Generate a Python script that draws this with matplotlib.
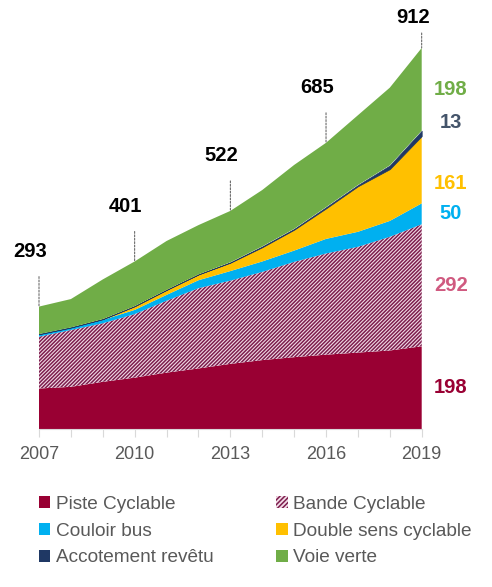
import matplotlib
matplotlib.use('Agg')
from matplotlib import pyplot as plt
from matplotlib.patches import Patch

years = list(range(2007, 2020))
piste = [97, 101, 113, 123, 135, 145, 156, 165, 172, 178, 183, 188, 198]
bande = [124, 136, 140, 152, 172, 192, 199, 211, 228, 242, 253, 272, 292]
couloir = [6, 6, 8, 10, 14, 19, 23, 25, 27, 35, 36, 38, 50]
double_sens = [0, 0, 2, 9, 12, 14, 20, 34, 50, 73, 109, 124, 161]
accotement = [0, 0, 0, 0, 0, 0, 1, 2, 2, 3, 3, 9, 13]
voie_verte = [66, 68, 95, 107, 117, 118, 123, 135, 153, 154, 167, 186, 198]

label_years = [2007, 2010, 2013, 2016, 2019]
series_names = ['Piste Cyclable', 'Bande Cyclable', 'Couloir bus',
                'Double sens cyclable', 'Accotement revêtu', 'Voie verte']

colors = ['#990033', '#F2DCE7', '#00B0F0', '#FFC000', '#1F3864', '#70AD47']
label_colors = ['#990033', '#D05A80', '#00B0F0', '#FFC000', '#44546A', '#70AD47']
hatch_color = '#7D1E4E'

narrow = ['Liberation Sans Narrow', 'Liberation Sans', 'DejaVu Sans']
plt.rcParams['font.family'] = ['Liberation Sans', 'DejaVu Sans']
plt.rcParams['hatch.linewidth'] = 1.1

fig = plt.figure(figsize=(4.92, 5.87), dpi=100)
ax = fig.add_axes([39 / 492, 158 / 587, 382.7 / 492, 417.8 / 587])

series = [piste, bande, couloir, double_sens, accotement, voie_verte]
polys = ax.stackplot(years, *series, colors=colors, linewidth=0)
polys[1].set_hatch('/' * 9)
polys[1].set_edgecolor(hatch_color)
polys[4].set_edgecolor('#1F3864')
polys[4].set_linewidth(0.5)

ax.set_xlim(2007, 2019)
ax.set_ylim(0, 1000)

totals = [sum(s[i] for s in series) for i in range(len(years))]

# totals above the areas, with dashed leaders
for yr in label_years:
    i = years.index(yr)
    tot = totals[i]
    last = yr == years[-1]
    text_off = 30 if last else 55
    line_off = 15 if last else 30
    ax.annotate(str(tot), xy=(yr, tot), xytext=(-9 * 0.72, text_off * 0.72),
                textcoords='offset points', ha='center', va='center',
                fontsize=14.5, fontweight='bold', family=narrow, color='black')
    ax.annotate('', xy=(yr, tot), xytext=(0, line_off * 0.72),
                textcoords='offset points',
                arrowprops=dict(arrowstyle='-', linestyle=(0, (2, 1.5)),
                                color='#555555', lw=0.7, shrinkA=0, shrinkB=0))

# values for the last year on the right
nudges = [0, 0, 0, -32, 25, 0]
cum = 0
for k, s in enumerate(series):
    v = s[-1]
    mid = cum + v / 2 + nudges[k]
    cum += v
    ax.annotate(str(v), xy=(years[-1], mid), xytext=(29 * 0.72, 0),
                textcoords='offset points', ha='center', va='center',
                fontsize=14.5, fontweight='bold', family=narrow,
                color=label_colors[k])

ax.set_xticks(years)
ax.set_xticklabels([str(y) if y in label_years else '' for y in years])
ax.tick_params(axis='x', length=6, width=0.8, color='#D9D9D9',
               labelsize=13, labelcolor='#595959', pad=6)
ax.set_yticks([])
for side in ['top', 'right', 'left']:
    ax.spines[side].set_visible(False)
ax.spines['bottom'].set_color('#D9D9D9')
ax.spines['bottom'].set_linewidth(0.8)

handles = []
for k, name in enumerate(series_names):
    if k == 1:
        handles.append(Patch(facecolor=colors[1], edgecolor=hatch_color,
                             hatch='/' * 7, linewidth=0, label=name))
    else:
        handles.append(Patch(facecolor=colors[k], linewidth=0, label=name))
order = [0, 2, 4, 1, 3, 5]
fig.legend([handles[i] for i in order], [series_names[i] for i in order],
           ncol=2, loc='upper left', bbox_to_anchor=(31 / 492, 1 - 488 / 587),
           frameon=False, fontsize=13.7, labelcolor='#595959',
           handlelength=0.6, handleheight=0.6, handletextpad=0.3,
           columnspacing=3.3, labelspacing=0.52, borderaxespad=0)

fig.savefig('out.png', dpi=100)
